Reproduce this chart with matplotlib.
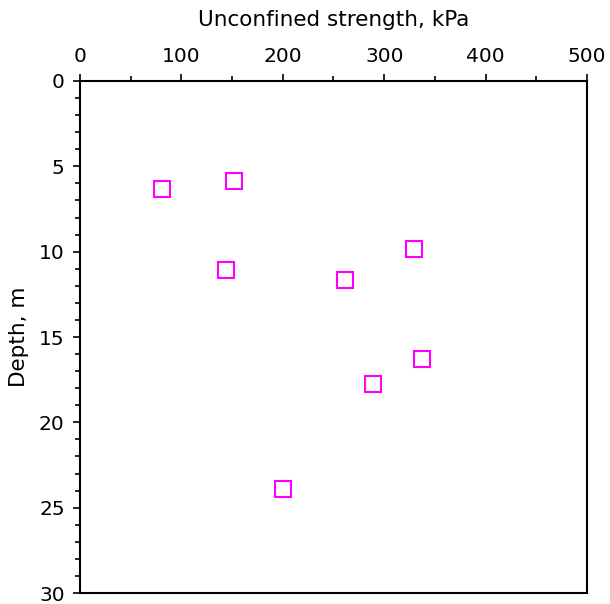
import matplotlib
matplotlib.use("Agg")
import matplotlib.pyplot as plt
from matplotlib.ticker import MultipleLocator

# unconfined strength (kPa) vs depth (m)
strength = [81, 152, 329, 144, 261, 337, 289, 200]
depth = [6.3, 5.86, 9.84, 11.07, 11.66, 16.3, 17.77, 23.9]

fig = plt.figure(figsize=(6.1, 6.04), dpi=100)
ax = fig.add_axes([0.1311, 0.0182, 0.8312, 0.8477])

ax.plot(strength, depth, linestyle="none", marker="s", ms=11.5, mew=1.5,
        mfc="none", mec="#ff00ff")

ax.set_xlim(0, 500)
ax.set_ylim(30, 0)
ax.xaxis.set_major_locator(MultipleLocator(100))
ax.xaxis.set_minor_locator(MultipleLocator(50))
ax.yaxis.set_major_locator(MultipleLocator(5))
ax.yaxis.set_minor_locator(MultipleLocator(1))

ax.xaxis.tick_top()
ax.xaxis.set_label_position("top")
ax.tick_params(which="both", direction="out", width=1.2, labelsize=14.5,
               top=True, bottom=False, left=True, right=False)
ax.tick_params(which="major", length=5)
ax.tick_params(axis="x", which="major", pad=6)
ax.tick_params(axis="y", which="major", pad=6)
ax.tick_params(which="minor", length=3.5)
for s in ax.spines.values():
    s.set_linewidth(1.5)

ax.set_xlabel("Unconfined strength, kPa", fontsize=15.5, labelpad=15)
ax.set_ylabel("Depth, m", fontsize=15.5, labelpad=7)

fig.savefig("out.png")
